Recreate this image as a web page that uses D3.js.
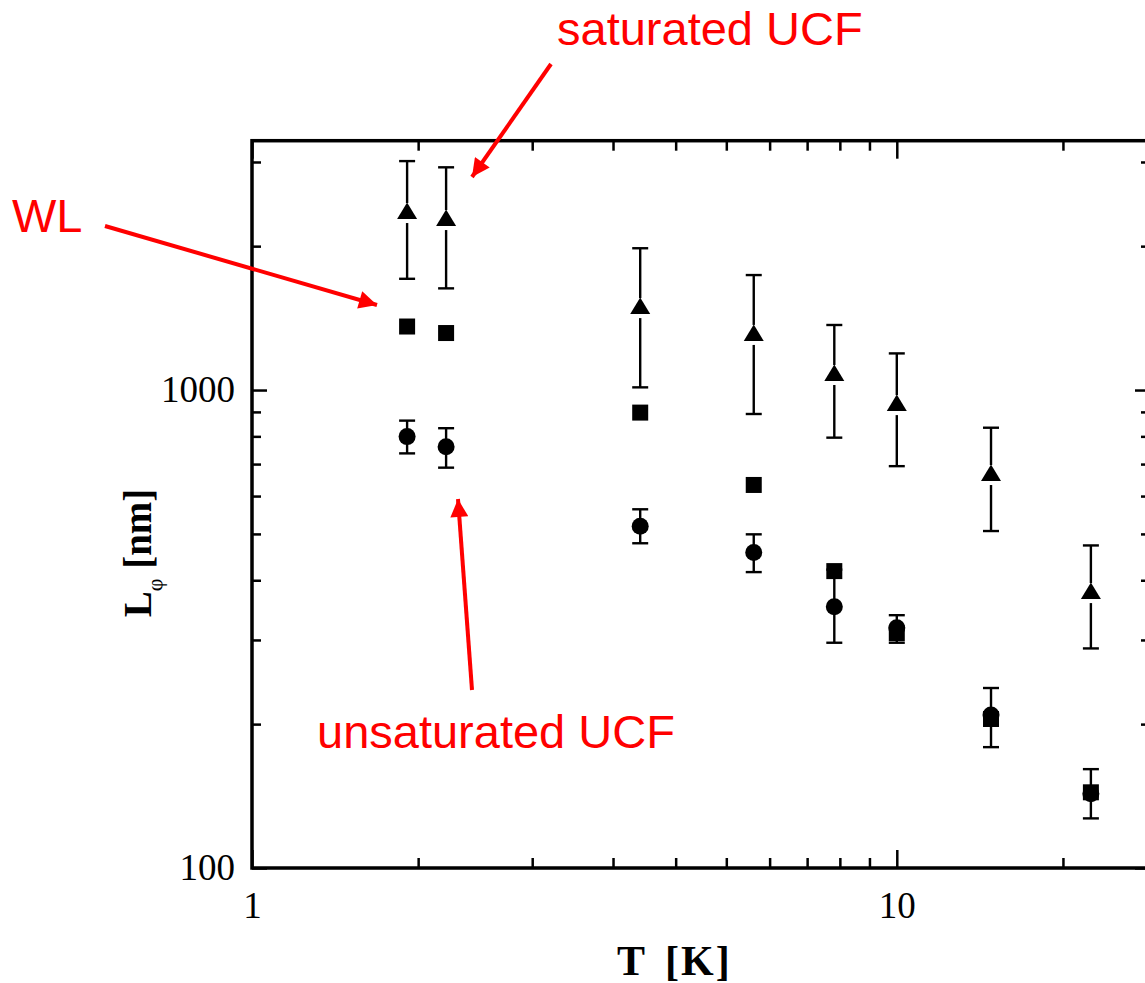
<!DOCTYPE html>
<html>
<head>
<meta charset="utf-8">
<script src="https://cdn.jsdelivr.net/npm/d3@7"></script>
<style>
  body { margin: 0; background: #fff; }
  svg { display: block; }
</style>
</head>
<body>
<script>
// Temperaturas (K)
var temps = [1.74, 2, 4, 6, 8, 10, 14, 20];

// saturated UCF (triangulos) con barras de error
var satUCF   = [2346, 2268, 1484, 1304, 1075, 930, 664, 376];
var satUCFHi = [3013, 2924, 1980, 1740, 1368, 1193, 834, 473];
var satUCFLo = [1709, 1632, 1013, 891, 795, 693, 507, 288];

// WL (cuadrados)
var wl = [1358, 1316, 897, 633, 418, 310, 205, 144];

// unsaturated UCF (circulos) con barras de error
var unsatUCF   = [799, 761, 519, 457, 352, 318, 209, 143];
var unsatUCFHi = [863, 832, 563, 499, 421, 338, 238, 161];
var unsatUCFLo = [737, 688, 478, 416, 296, 296, 179, 127];

// Marcas de los ejes
var xMajorTicks = [1, 10];
var xMinorTicks = [1.81, 2.72, 3.63, 4.54, 5.44, 6.35, 7.26, 8.16, 9.07, 18.1];
var yMajorTicks = [100, 1000];
var yMinorTicks = [200, 300, 400, 500, 600, 700, 800, 900, 2000, 3000];

var W = 1145, H = 983;

var svg = d3.select("body").append("svg")
  .attr("width", W)
  .attr("height", H);

var x = d3.scaleLog().domain([1, 24.7]).range([252, 1150]);
var y = d3.scaleLog().domain([100, 3324]).range([868, 140.7]);

var x0 = x.range()[0], x1 = x.range()[1];
var y0 = y.range()[0], y1 = y.range()[1];

// Ejes: marcas hacia adentro
function styleAxis(g) {
  g.select(".domain").remove();
  g.selectAll(".tick line").attr("stroke", "#000").attr("stroke-width", 2.5);
  g.selectAll(".tick text")
    .attr("fill", "#000")
    .style("font-family", "'Liberation Serif', 'DejaVu Serif', serif")
    .style("font-size", "37px");
}

svg.append("g")
  .attr("transform", "translate(0," + y0 + ")")
  .call(d3.axisBottom(x).tickValues(xMajorTicks).tickSize(-18).tickPadding(24).tickFormat(d3.format("d")))
  .call(styleAxis);
svg.append("g")
  .attr("transform", "translate(0," + y0 + ")")
  .call(d3.axisBottom(x).tickValues(xMinorTicks).tickSize(-10).tickFormat(""))
  .call(styleAxis);
svg.append("g")
  .attr("transform", "translate(0," + y1 + ")")
  .call(d3.axisTop(x).tickValues(xMajorTicks).tickSize(-18).tickFormat(""))
  .call(styleAxis);
svg.append("g")
  .attr("transform", "translate(0," + y1 + ")")
  .call(d3.axisTop(x).tickValues(xMinorTicks).tickSize(-10).tickFormat(""))
  .call(styleAxis);

svg.append("g")
  .attr("transform", "translate(" + x0 + ",0)")
  .call(d3.axisLeft(y).tickValues(yMajorTicks).tickSize(-15).tickPadding(17).tickFormat(d3.format("d")))
  .call(styleAxis);
svg.append("g")
  .attr("transform", "translate(" + x0 + ",0)")
  .call(d3.axisLeft(y).tickValues(yMinorTicks).tickSize(-9).tickFormat(""))
  .call(styleAxis);
svg.append("g")
  .attr("transform", "translate(" + x1 + ",0)")
  .call(d3.axisRight(y).tickValues(yMajorTicks).tickSize(-15).tickFormat(""))
  .call(styleAxis);
svg.append("g")
  .attr("transform", "translate(" + x1 + ",0)")
  .call(d3.axisRight(y).tickValues(yMinorTicks).tickSize(-9).tickFormat(""))
  .call(styleAxis);

// Marco
svg.append("rect")
  .attr("x", x0).attr("y", y1)
  .attr("width", x1 - x0).attr("height", y0 - y1)
  .attr("fill", "none")
  .attr("stroke", "#000")
  .attr("stroke-width", 3.5);

// Titulos de los ejes
var serif = "'Liberation Serif', 'DejaVu Serif', serif";
var xTitle = svg.append("text")
  .attr("x", 617).attr("y", 975)
  .style("font-family", serif)
  .style("font-size", "42px")
  .style("font-weight", "bold");
xTitle.append("tspan").text("T");
xTitle.append("tspan").attr("dx", 20).style("letter-spacing", "2px").text("[K]");

var yTitle = svg.append("text")
  .attr("transform", "translate(151,553) rotate(-90)")
  .attr("text-anchor", "middle")
  .style("font-family", serif)
  .style("font-size", "39px")
  .style("font-weight", "bold");
yTitle.append("tspan").text("L");
yTitle.append("tspan").attr("dy", 11).style("font-size", "22px").style("font-weight", "normal").text("\u03c6");
yTitle.append("tspan").attr("dy", -11).text(" [nm]");

// Barras de error
var capW = 8;
var plot = svg.append("g");

function errorBars(mid, hi, lo, gapTop, gapBot) {
  var g = plot.append("g").attr("stroke", "#000").attr("stroke-width", 2.4);
  temps.forEach(function(t, i) {
    var cx = x(t);
    var cy = y(mid[i]);
    g.append("line").attr("x1", cx).attr("x2", cx).attr("y1", y(hi[i])).attr("y2", cy - gapTop);
    g.append("line").attr("x1", cx).attr("x2", cx).attr("y1", cy + gapBot).attr("y2", y(lo[i]));
    g.append("line").attr("x1", cx - capW).attr("x2", cx + capW).attr("y1", y(hi[i])).attr("y2", y(hi[i]));
    g.append("line").attr("x1", cx - capW).attr("x2", cx + capW).attr("y1", y(lo[i])).attr("y2", y(lo[i]));
  });
}

errorBars(satUCF, satUCFHi, satUCFLo, 10, 10);
errorBars(unsatUCF, unsatUCFHi, unsatUCFLo, 0, 0);

// Marcadores
plot.append("g").selectAll("path")
  .data(temps)
  .enter()
  .append("path")
  .attr("d", "M0,-10.5L10,6L-10,6Z")
  .attr("transform", function(d, i) { return "translate(" + x(d) + "," + y(satUCF[i]) + ")"; })
  .attr("fill", "#000");

plot.append("g").selectAll("rect")
  .data(temps)
  .enter()
  .append("rect")
  .attr("x", function(d) { return x(d) - 8; })
  .attr("y", function(d, i) { return y(wl[i]) - 8; })
  .attr("width", 16)
  .attr("height", 16)
  .attr("fill", "#000");

plot.append("g").selectAll("circle")
  .data(temps)
  .enter()
  .append("circle")
  .attr("cx", function(d) { return x(d); })
  .attr("cy", function(d, i) { return y(unsatUCF[i]); })
  .attr("r", 8.5)
  .attr("fill", "#000");

// Anotaciones en rojo
var red = "#ff0000";
svg.append("defs").append("marker")
  .attr("id", "arrow")
  .attr("viewBox", "0 0 10 10")
  .attr("refX", 10).attr("refY", 5)
  .attr("markerUnits", "userSpaceOnUse")
  .attr("markerWidth", 20).attr("markerHeight", 18)
  .attr("orient", "auto")
  .append("path")
  .attr("d", "M0,0L10,5L0,10Z")
  .attr("fill", red);

var arrows = [
  [[551, 64], [472, 177]],
  [[105, 226], [377, 305]],
  [[472, 690], [458, 499]]
];
svg.append("g").selectAll("line")
  .data(arrows)
  .enter()
  .append("line")
  .attr("x1", function(d) { return d[0][0]; })
  .attr("y1", function(d) { return d[0][1]; })
  .attr("x2", function(d) { return d[1][0]; })
  .attr("y2", function(d) { return d[1][1]; })
  .attr("stroke", red)
  .attr("stroke-width", 4)
  .attr("marker-end", "url(#arrow)");

var notes = [
  { text: "saturated UCF", x: 557, y: 45 },
  { text: "WL", x: 12, y: 232 },
  { text: "unsaturated UCF", x: 317, y: 748 }
];
svg.append("g").selectAll("text")
  .data(notes)
  .enter()
  .append("text")
  .attr("x", function(d) { return d.x; })
  .attr("y", function(d) { return d.y; })
  .attr("fill", red)
  .style("font-family", "'Liberation Sans', Arial, sans-serif")
  .style("font-size", "47px")
  .text(function(d) { return d.text; });
</script>
</body>
</html>
